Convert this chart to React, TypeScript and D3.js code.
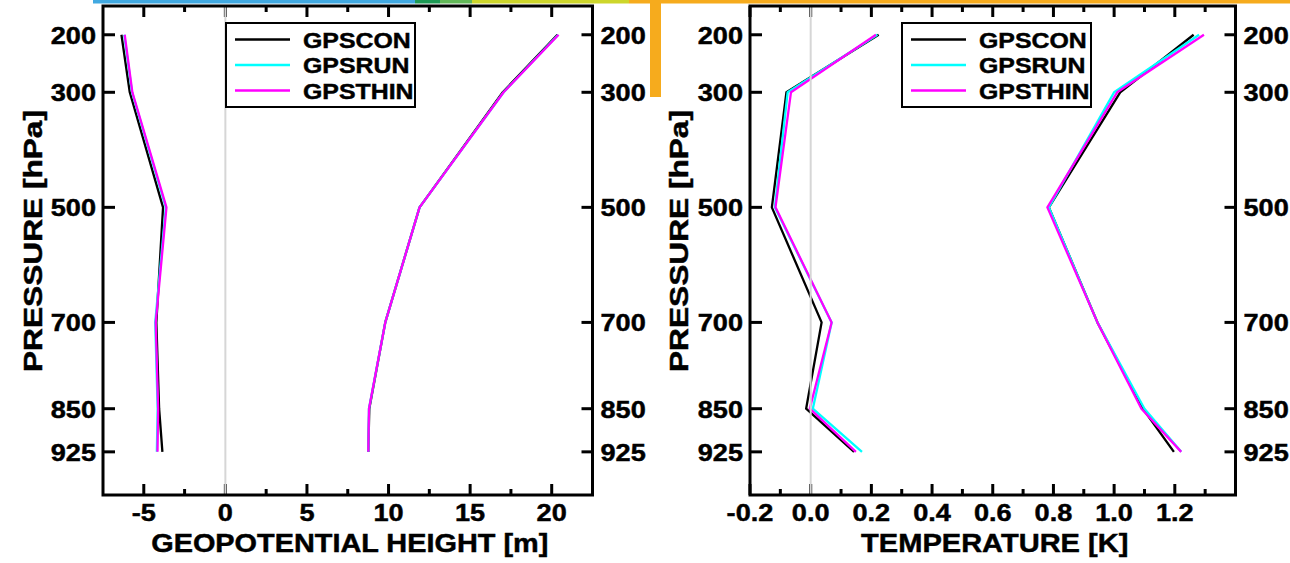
import React from 'react';
import * as d3 from 'd3';

// ---------- data ----------
const pressureLevels = [200, 300, 500, 700, 850, 925];
const seriesNames = ['GPSCON', 'GPSRUN', 'GPSTHIN'];
const seriesColors = ['#000000', '#00ffff', '#ff00ff'];

// Geopotential height (m): bias and rms profiles
const zBiasCon = [-6.37, -5.86, -3.82, -4.23, -4.06, -3.86];
const zBiasRun = [-6.2, -5.72, -3.65, -4.3, -4.15, -4.2];
const zBiasThin = [-6.17, -5.7, -3.61, -4.27, -4.12, -4.16];
const zRmsCon = [20.35, 17.0, 11.9, 9.8, 8.82, 8.76];
const zRmsRun = [20.4, 17.05, 11.9, 9.8, 8.8, 8.76];
const zRmsThin = [20.42, 17.05, 11.9, 9.8, 8.8, 8.76];

// Temperature (K): bias and rms profiles
const tBiasCon = [0.224, -0.08, -0.128, 0.036, -0.015, 0.143];
const tBiasRun = [0.22, -0.076, -0.118, 0.069, 0.007, 0.169];
const tBiasThin = [0.215, -0.065, -0.116, 0.069, -0.003, 0.149];
const tRmsCon = [1.262, 1.02, 0.785, 0.945, 1.095, 1.197];
const tRmsRun = [1.28, 1.0, 0.785, 0.945, 1.1, 1.221];
const tRmsThin = [1.296, 1.01, 0.78, 0.945, 1.09, 1.221];

const zTicksMajor = [-5, 0, 5, 10, 15, 20];
const zTickLabels = ['-5', '0', '5', '10', '15', '20'];
const zTicksMinor = [-2.5, 2.5, 7.5, 12.5, 17.5];
const tTicksMajor = [-0.2, 0, 0.2, 0.4, 0.6, 0.8, 1.0, 1.2];
const tTickLabels = ['-0.2', '0.0', '0.2', '0.4', '0.6', '0.8', '1.0', '1.2'];
const tTicksMinor = [-0.1, 0.1, 0.3, 0.5, 0.7, 0.9, 1.1, 1.3];
const pressureLabels = ['200', '300', '500', '700', '850', '925'];

// ---------- helpers ----------
const FONT = '"Liberation Sans", Arial, Helvetica, sans-serif';
const CW: Record<string, number> = {
  A: .722, B: .722, C: .722, D: .722, E: .667, F: .611, G: .778, H: .722, I: .278, J: .556,
  K: .722, L: .611, M: .833, N: .722, O: .778, P: .667, Q: .778, R: .722, S: .667, T: .611,
  U: .722, V: .667, W: .944, X: .667, Y: .667, Z: .611, a: .556, h: .611, m: .889,
  '-': .333, '.': .278, ' ': .278, '[': .333, ']': .333,
};
const STRETCH = 1.13;
function tlen(s: string, size: number, stretch = STRETCH) {
  let w = 0;
  for (const c of s) w += CW[c] ?? (/[0-9]/.test(c) ? 0.556 : 0.6);
  return w * size * stretch;
}

function STxt(props: { x: number; y: number; s: string; size: number; anchor?: string; stretch?: number }) {
  const { x, y, s, size, anchor = 'start', stretch } = props;
  return (
    <text x={x} y={y} fontFamily={FONT} fontWeight="bold" fontSize={size} textAnchor={anchor}
      textLength={tlen(s, size, stretch)} lengthAdjust="spacingAndGlyphs" fill="#000"
      stroke="#000" strokeWidth={0.45}>{s}</text>
  );
}

const Y0 = 6;
const Y1 = 495;
const yScale = d3.scaleLinear().domain([150, 1000]).range([Y0, Y1]);

type PanelProps = {
  x0: number; x1: number; domain: [number, number];
  major: number[]; labels: string[]; minor: number[];
  groups: number[][][]; xTitle: string; yTitleX: number; legendX: number;
};

function Panel(p: PanelProps) {
  const xs = d3.scaleLinear().domain(p.domain).range([p.x0, p.x1]);
  const line = d3.line<number>().x((v) => xs(v)).y((_, i) => yScale(pressureLevels[i]));
  const cx = (p.x0 + p.x1) / 2;
  return (
    <g>
      {/* data */}
      {p.groups.map((grp, gi) => (
        <g key={gi}>
          {grp.map((vals, si) => (
            <path key={si} d={line(vals) || ''} fill="none" stroke={seriesColors[si]} strokeWidth={2.3} strokeLinejoin="round" />
          ))}
        </g>
      ))}
      {/* ticks */}
      {pressureLevels.map((pr) => (
        <g key={'y' + pr} stroke="#000" strokeWidth={3}>
          <line x1={p.x0} x2={p.x0 + 12} y1={yScale(pr)} y2={yScale(pr)} />
          <line x1={p.x1 - 11} x2={p.x1} y1={yScale(pr)} y2={yScale(pr)} />
        </g>
      ))}
      {p.major.map((v) => (
        <g key={'mj' + v} stroke="#000" strokeWidth={3}>
          <line x1={xs(v)} x2={xs(v)} y1={Y1} y2={Y1 - 11} />
          <line x1={xs(v)} x2={xs(v)} y1={Y0} y2={Y0 + 11} />
        </g>
      ))}
      {p.minor.map((v) => (
        <g key={'mn' + v} stroke="#000" strokeWidth={3}>
          <line x1={xs(v)} x2={xs(v)} y1={Y1} y2={Y1 - 6} />
          <line x1={xs(v)} x2={xs(v)} y1={Y0} y2={Y0 + 6} />
        </g>
      ))}
      {/* zero line */}
      <line x1={xs(0)} x2={xs(0)} y1={Y0 + 1} y2={Y1 - 1} stroke="#d6d6d6" strokeWidth={2} />
      {/* box */}
      <rect x={p.x0} y={Y0} width={p.x1 - p.x0} height={Y1 - Y0} fill="none" stroke="#000" strokeWidth={3} />
      {/* y labels */}
      {pressureLevels.map((pr, i) => (
        <g key={'yl' + pr}>
          <STxt x={p.x0 - 7} y={yScale(pr) + 9} s={pressureLabels[i]} size={24} anchor="end" />
          <STxt x={p.x1 + 8} y={yScale(pr) + 9} s={pressureLabels[i]} size={24} anchor="start" />
        </g>
      ))}
      {/* x labels */}
      {p.major.map((v, i) => (
        <STxt key={'xl' + v} x={xs(v)} y={521} s={p.labels[i]} size={24} anchor="middle" />
      ))}
      <STxt x={cx + 2} y={552} s={p.xTitle} size={25.5} anchor="middle" />
      <g transform={`translate(${p.yTitleX},241) rotate(-90)`}>
        <text x={0} y={0} fontFamily={FONT} fontWeight="bold" fontSize={26} textAnchor="middle"
          textLength={262} lengthAdjust="spacingAndGlyphs" stroke="#000" strokeWidth={0.45}>PRESSURE [hPa]</text>
      </g>
      {/* legend */}
      <g>
        <rect x={p.legendX} y={23} width={189} height={84} fill="#fff" stroke="#000" strokeWidth={2} />
        {seriesNames.map((nm, i) => (
          <g key={nm}>
            <line x1={p.legendX + 9} x2={p.legendX + 64} y1={39.5 + i * 25.5} y2={39.5 + i * 25.5}
              stroke={seriesColors[i]} strokeWidth={2.5} />
            <STxt x={p.legendX + 77} y={39.5 + i * 25.5 + 8} s={nm} size={22} />
          </g>
        ))}
      </g>
    </g>
  );
}

export default function App() {
  return (
    <svg width={1290} height={563} viewBox="0 0 1290 563"
      style={{ position: 'fixed', left: 0, top: 0, background: '#fff', display: 'block' }}>
      <rect x={0} y={0} width={1290} height={563} fill="#fff" />
      {/* page header strip */}
      <rect x={93} y={0} width={322} height={3.5} fill="#41a9e1" />
      <rect x={415} y={0} width={25} height={3.5} fill="#1d9a55" />
      <rect x={440} y={0} width={32} height={3.5} fill="#62b858" />
      <rect x={472} y={0} width={157} height={3.5} fill="#cdd62b" />
      <rect x={629} y={0} width={661} height={3.5} fill="#f6ab1d" />
      <rect x={650} y={0} width={11} height={97} fill="#f6ab1d" />
      <Panel x0={103} x1={592.5} domain={[-7.5, 22.5]} major={zTicksMajor} labels={zTickLabels}
        minor={zTicksMinor}
        groups={[[zBiasCon, zBiasRun, zBiasThin], [zRmsCon, zRmsRun, zRmsThin]]}
        xTitle="GEOPOTENTIAL HEIGHT [m]" yTitleX={42} legendX={226} />
      <Panel x0={750} x1={1235.5} domain={[-0.2, 1.4]} major={tTicksMajor} labels={tTickLabels}
        minor={tTicksMinor}
        groups={[[tBiasCon, tBiasRun, tBiasThin], [tRmsCon, tRmsRun, tRmsThin]]}
        xTitle="TEMPERATURE [K]" yTitleX={688} legendX={902} />
    </svg>
  );
}
